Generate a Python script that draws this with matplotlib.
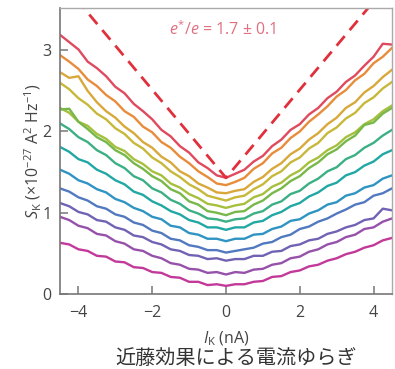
import matplotlib
matplotlib.use("Agg")
import matplotlib.pyplot as plt

plt.rcParams['font.family'] = ['Open Sans', 'DejaVu Sans', 'Noto Sans CJK JP']
plt.rcParams['mathtext.fontset'] = 'custom'
plt.rcParams['mathtext.rm'] = 'Open Sans'
plt.rcParams['mathtext.it'] = 'Open Sans:italic'

current_nA = [-4.5, -4.25, -4.0, -3.75, -3.5, -3.25, -3.0, -2.75, -2.5, -2.25,
              -2.0, -1.75, -1.5, -1.25, -1.0, -0.75, -0.5, -0.25, 0.0, 0.25,
              0.5, 0.75, 1.0, 1.25, 1.5, 1.75, 2.0, 2.25, 2.5, 2.75,
              3.0, 3.25, 3.5, 3.75, 4.0, 4.25, 4.5]

s_red = [3.19, 3.10, 3.01, 2.86, 2.78, 2.68, 2.55, 2.47, 2.34, 2.25, 2.15, 2.02, 1.94, 1.82, 1.74, 1.62, 1.55, 1.46, 1.43,
         1.48, 1.53, 1.63, 1.70, 1.82, 1.90, 2.02, 2.09, 2.21, 2.29, 2.41, 2.49, 2.61, 2.69, 2.81, 2.92, 3.08, 3.07]
s_orange = [2.94, 2.86, 2.77, 2.64, 2.56, 2.45, 2.37, 2.25, 2.18, 2.06, 1.99, 1.87, 1.80, 1.69, 1.61, 1.51, 1.44, 1.36, 1.34,
            1.38, 1.43, 1.54, 1.61, 1.73, 1.80, 1.92, 2.00, 2.12, 2.21, 2.31, 2.43, 2.51, 2.63, 2.71, 2.84, 2.92, 3.03]
s_yelloworange = [2.73, 2.66, 2.68, 2.50, 2.36, 2.25, 2.17, 2.06, 1.98, 1.87, 1.80, 1.69, 1.62, 1.51, 1.45, 1.36, 1.31, 1.25, 1.24,
                  1.27, 1.29, 1.38, 1.44, 1.54, 1.61, 1.72, 1.79, 1.90, 1.98, 2.09, 2.17, 2.29, 2.36, 2.48, 2.56, 2.67, 2.76]
s_yellow = [2.60, 2.52, 2.41, 2.33, 2.22, 2.15, 2.04, 1.97, 1.86, 1.79, 1.68, 1.61, 1.51, 1.44, 1.35, 1.29, 1.21, 1.18, 1.15,
            1.19, 1.21, 1.29, 1.35, 1.45, 1.51, 1.62, 1.68, 1.79, 1.86, 1.98, 2.05, 2.16, 2.23, 2.35, 2.42, 2.53, 2.61]
s_yellowgreen = [2.29, 2.23, 2.12, 2.07, 1.97, 1.91, 1.81, 1.76, 1.66, 1.60, 1.51, 1.46, 1.36, 1.31, 1.23, 1.18, 1.11, 1.09, 1.06,
                 1.09, 1.11, 1.19, 1.23, 1.32, 1.37, 1.46, 1.52, 1.62, 1.68, 1.77, 1.83, 1.93, 1.99, 2.09, 2.15, 2.25, 2.32]
s_green = [2.27, 2.28, 2.12, 2.03, 1.93, 1.87, 1.77, 1.71, 1.61, 1.54, 1.45, 1.39, 1.29, 1.24, 1.14, 1.10, 1.02, 1.00, 0.97,
           1.01, 1.02, 1.10, 1.15, 1.24, 1.30, 1.39, 1.45, 1.55, 1.62, 1.72, 1.78, 1.88, 1.95, 2.08, 2.11, 2.22, 2.29]
s_tealgreen = [2.10, 2.03, 1.93, 1.87, 1.77, 1.71, 1.61, 1.55, 1.45, 1.40, 1.30, 1.25, 1.16, 1.11, 1.03, 0.99, 0.93, 0.92, 0.89,
               0.92, 0.93, 0.99, 1.02, 1.10, 1.14, 1.23, 1.27, 1.36, 1.42, 1.51, 1.56, 1.66, 1.71, 1.80, 1.86, 1.95, 2.02]
s_teal = [1.81, 1.75, 1.66, 1.62, 1.53, 1.48, 1.40, 1.35, 1.26, 1.22, 1.14, 1.09, 1.02, 0.98, 0.91, 0.88, 0.82, 0.82, 0.79,
          0.82, 0.82, 0.88, 0.90, 0.97, 1.01, 1.08, 1.12, 1.20, 1.25, 1.33, 1.37, 1.46, 1.50, 1.58, 1.63, 1.72, 1.77]
s_cyan = [1.53, 1.48, 1.40, 1.36, 1.29, 1.25, 1.17, 1.13, 1.06, 1.02, 0.95, 0.92, 0.84, 0.82, 0.75, 0.73, 0.68, 0.68, 0.65,
          0.68, 0.68, 0.73, 0.74, 0.80, 0.83, 0.90, 0.92, 0.99, 1.03, 1.10, 1.13, 1.21, 1.24, 1.31, 1.34, 1.42, 1.46]
s_blue = [1.30, 1.26, 1.19, 1.15, 1.08, 1.05, 0.98, 0.95, 0.88, 0.85, 0.78, 0.75, 0.68, 0.66, 0.60, 0.58, 0.54, 0.54, 0.51,
          0.53, 0.55, 0.57, 0.62, 0.64, 0.70, 0.73, 0.80, 0.83, 0.89, 0.93, 0.99, 1.04, 1.10, 1.13, 1.21, 1.24, 1.30]
s_violet = [1.12, 1.08, 1.01, 0.98, 0.91, 0.89, 0.82, 0.79, 0.72, 0.70, 0.64, 0.61, 0.55, 0.53, 0.48, 0.47, 0.43, 0.44, 0.41,
            0.43, 0.43, 0.47, 0.47, 0.52, 0.53, 0.59, 0.61, 0.66, 0.68, 0.74, 0.77, 0.82, 0.85, 0.91, 0.93, 1.05, 1.03]
s_purple = [0.95, 0.91, 0.84, 0.81, 0.74, 0.72, 0.65, 0.62, 0.55, 0.53, 0.47, 0.44, 0.38, 0.36, 0.31, 0.30, 0.26, 0.27, 0.24,
            0.27, 0.26, 0.30, 0.31, 0.36, 0.38, 0.44, 0.46, 0.52, 0.55, 0.61, 0.64, 0.70, 0.73, 0.80, 0.82, 0.89, 0.93]
s_magenta = [0.63, 0.61, 0.55, 0.53, 0.47, 0.46, 0.40, 0.39, 0.33, 0.32, 0.27, 0.26, 0.21, 0.20, 0.15, 0.15, 0.11, 0.12, 0.10,
             0.12, 0.12, 0.15, 0.16, 0.21, 0.22, 0.27, 0.29, 0.34, 0.36, 0.41, 0.44, 0.49, 0.52, 0.57, 0.60, 0.66, 0.69]

series = [s_red, s_orange, s_yelloworange, s_yellow, s_yellowgreen, s_green, s_tealgreen,
          s_teal, s_cyan, s_blue, s_violet, s_purple, s_magenta]
colors = ['#e04a5e', '#e88c3c', '#d9a83a', '#c8b83a', '#a6c03e', '#78b84a', '#3cb084',
          '#22a8a4', '#2f94c2', '#5279c0', '#7262b4', '#9651aa', '#c2399a']

fit_x = [-4.5, 0.0, 4.5]
fit_y = [3.87, 1.43, 3.87]

x_ticks = [-4, -2, 0, 2, 4]
y_ticks = [0, 1, 2, 3]

fig = plt.figure(figsize=(3.95, 3.69), dpi=100)
ax = fig.add_axes([60/395, 1-294/369, 332/395, 286/369])

for s, c in zip(series, colors):
    ax.plot(current_nA, s, color=c, lw=1.7, solid_joinstyle='round')

ax.plot(fit_x, fit_y, color='#e0303c', lw=2.0, dashes=(4.5, 2.8))

ax.set_xlim(-4.5, 4.5)
ax.set_ylim(0, 3.52)
ax.set_xticks(x_ticks)
ax.set_yticks(y_ticks)
ax.tick_params(direction='in', length=6, width=1.1, color='#777777',
               labelsize=11.5, labelcolor='#444444')
ax.tick_params(axis='x', pad=8)
ax.tick_params(axis='y', pad=6)

for side in ['left', 'bottom']:
    ax.spines[side].set_color('#777777')
    ax.spines[side].set_linewidth(1.2)
for side in ['top', 'right']:
    ax.spines[side].set_color('#aaaaaa')
    ax.spines[side].set_linewidth(1.0)

ax.set_xlabel(r'$I_\mathrm{K}$ (nA)', fontsize=11.5, color='#444444', labelpad=6)
ax.set_ylabel(r'$S_\mathrm{K}$ (×10$^{-27}$ A$^{2}$ Hz$^{-1}$)', fontsize=11.5,
              color='#444444', labelpad=-1)

ax.text(-1.55, 3.25, r'$e^{*}/e$ = 1.7 ± 0.1', color='#e0707f', fontsize=11.5,
        ha='left', va='center')

fig.text(236/395, 1-359/369, '近藤効果による電流ゆらぎ', ha='center', va='center',
         fontsize=14.5, color='#333333',
         family=['Noto Sans CJK JP', 'DejaVu Sans'])

fig.savefig('out.png', dpi=100)
